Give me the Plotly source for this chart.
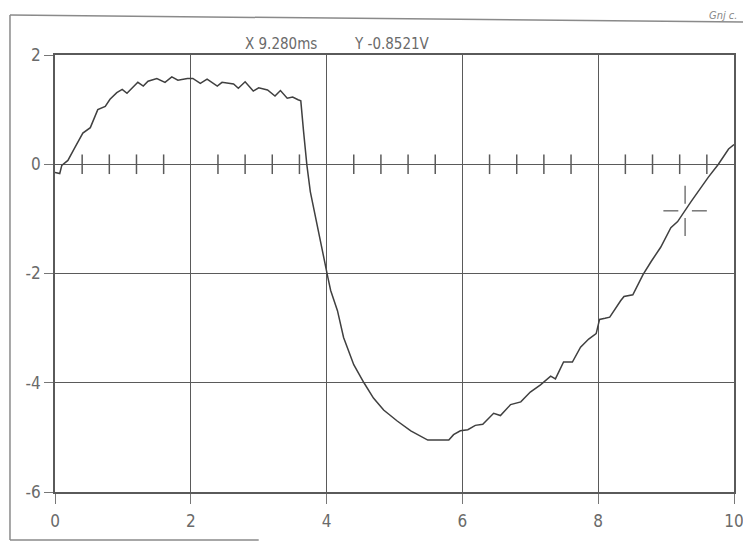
import plotly.graph_objects as go

# ---- data ----
time_ms = [0.00, 0.07, 0.10, 0.19, 0.29, 0.41, 0.52, 0.56, 0.63, 0.74, 0.81, 0.91, 0.99,
           1.06, 1.15, 1.22, 1.30, 1.37, 1.50, 1.62, 1.72, 1.81, 1.95, 2.03, 2.14, 2.24,
           2.39, 2.46, 2.63, 2.70, 2.80, 2.92, 3.00, 3.13, 3.24, 3.32, 3.42, 3.50, 3.58,
           3.62, 3.66, 3.71, 3.76, 3.86, 3.96, 4.02, 4.06, 4.16, 4.25, 4.40, 4.55, 4.69,
           4.84, 5.04, 5.24, 5.34, 5.49, 5.80, 5.87, 5.97, 6.08, 6.19, 6.30, 6.46, 6.56,
           6.71, 6.86, 7.00, 7.15, 7.30, 7.37, 7.49, 7.62, 7.74, 7.86, 7.97, 8.02, 8.10,
           8.17, 8.33, 8.38, 8.51, 8.66, 8.78, 8.92, 9.07, 9.17, 9.37, 9.62, 9.77, 9.92,
           10.00]
voltage_v = [-0.15, -0.17, -0.02, 0.07, 0.30, 0.57, 0.67, 0.78, 1.00, 1.06, 1.19, 1.31, 1.37,
             1.30, 1.41, 1.50, 1.43, 1.52, 1.57, 1.50, 1.60, 1.54, 1.57, 1.57, 1.48, 1.56,
             1.43, 1.50, 1.47, 1.39, 1.51, 1.34, 1.40, 1.36, 1.25, 1.35, 1.21, 1.23, 1.18,
             1.16, 0.61, -0.02, -0.50, -1.13, -1.74, -2.08, -2.31, -2.68, -3.17, -3.67, -4.00, -4.28,
             -4.50, -4.70, -4.88, -4.95, -5.05, -5.05, -4.95, -4.88, -4.86, -4.78, -4.76, -4.56, -4.60,
             -4.40, -4.35, -4.17, -4.04, -3.88, -3.93, -3.62, -3.62, -3.35, -3.20, -3.10, -2.84, -2.82,
             -2.80, -2.50, -2.42, -2.39, -2.02, -1.78, -1.52, -1.16, -1.05, -0.68, -0.24, 0.00, 0.28,
             0.36]

minor_tick_x = [0.4, 0.8, 1.2, 1.6, 2.4, 2.8, 3.2, 3.6, 4.4, 4.8, 5.2, 5.6,
                6.4, 6.8, 7.2, 7.6, 8.4, 8.8, 9.2, 9.6]
minor_tick_y = [0] * len(minor_tick_x)

x_tickvals = [0, 2, 4, 6, 8, 10]
x_ticktext = ["0", "2", "4", "6", "8", "10"]
y_tickvals = [2, 0, -2, -4, -6]
y_ticktext = ["2", "0", "-2", "-4", "-6"]

cursor_x = 9.280
cursor_y = -0.8521

FONT = "Liberation Sans Narrow, DejaVu Sans Condensed, Arial Narrow, sans-serif"
GRID = "#5a5a5a"
TXT = "#6a6a6a"
FRAME = "#8a8a8a"

fig = go.Figure()

fig.add_trace(go.Scatter(
    x=time_ms, y=voltage_v, mode="lines",
    line=dict(color="#404040", width=1.5),
    hoverinfo="skip", showlegend=False))

fig.add_trace(go.Scatter(
    x=minor_tick_x, y=minor_tick_y, mode="markers",
    marker=dict(symbol="line-ns", size=14, line=dict(color=GRID, width=1.5)),
    hoverinfo="skip", showlegend=False))

# crosshair cursor
dx_arm, dx_gap = 0.32, 0.10
dy_arm, dy_gap = 0.46, 0.13
for x0, x1, y0, y1 in [
    (cursor_x - dx_arm, cursor_x - dx_gap, cursor_y, cursor_y),
    (cursor_x + dx_gap, cursor_x + dx_arm, cursor_y, cursor_y),
    (cursor_x, cursor_x, cursor_y + dy_gap, cursor_y + dy_arm),
    (cursor_x, cursor_x, cursor_y - dy_arm, cursor_y - dy_gap),
]:
    fig.add_shape(type="line", xref="x", yref="y", x0=x0, x1=x1, y0=y0, y1=y1,
                  line=dict(color="#777777", width=1.5))

# outer frame of the scanned sheet (top, left, partial bottom)
for x0, y0, x1, y1 in [(-0.0663, 1.0915, 1.04, 1.075),
                       (-0.0663, 1.0915, -0.0663, -0.1098),
                       (-0.0663, -0.1098, 0.30, -0.1098)]:
    fig.add_shape(type="line", xref="paper", yref="paper", x0=x0, y0=y0, x1=x1, y1=y1,
                  line=dict(color=FRAME, width=1.5))

fig.add_annotation(xref="paper", yref="paper", x=0.277, y=1.025,
                   xanchor="left", yanchor="middle", showarrow=False,
                   text=f"X {cursor_x:.3f}ms", font=dict(family=FONT, size=15, color=TXT))
fig.add_annotation(xref="paper", yref="paper", x=0.437, y=1.025,
                   xanchor="left", yanchor="middle", showarrow=False,
                   text=f"Y {cursor_y:.4f}V", font=dict(family=FONT, size=15, color=TXT))
fig.add_annotation(xref="paper", yref="paper", x=1.008, y=1.091,
                   xanchor="right", yanchor="middle", showarrow=False,
                   text="<i>Gnj c.</i>", font=dict(family=FONT, size=11, color="#888888"))

fig.update_layout(
    width=751, height=543,
    margin=dict(l=47, r=25, t=47, b=59),
    paper_bgcolor="white", plot_bgcolor="white",
    font=dict(family=FONT, size=16, color=TXT),
    showlegend=False,
)
fig.update_xaxes(range=[0, 10], tickmode="array", tickvals=x_tickvals, ticktext=x_ticktext,
                 showgrid=True, gridcolor=GRID, gridwidth=1.3, zeroline=False,
                 showline=True, mirror=True, linecolor=GRID, linewidth=1.5,
                 ticks="outside", ticklen=10, tickcolor="#777777", tickwidth=1.3,
                 ticklabelstandoff=3,
                 tickfont=dict(family=FONT, size=17, color=TXT))
fig.update_yaxes(range=[-6, 2], tickmode="array", tickvals=y_tickvals, ticktext=y_ticktext,
                 showgrid=True, gridcolor=GRID, gridwidth=1.3, zeroline=False,
                 showline=True, mirror=True, linecolor=GRID, linewidth=1.5,
                 ticks="outside", ticklen=9, tickcolor="#777777", tickwidth=1.3,
                 tickfont=dict(family=FONT, size=17, color=TXT))

fig.write_html("out.html")
